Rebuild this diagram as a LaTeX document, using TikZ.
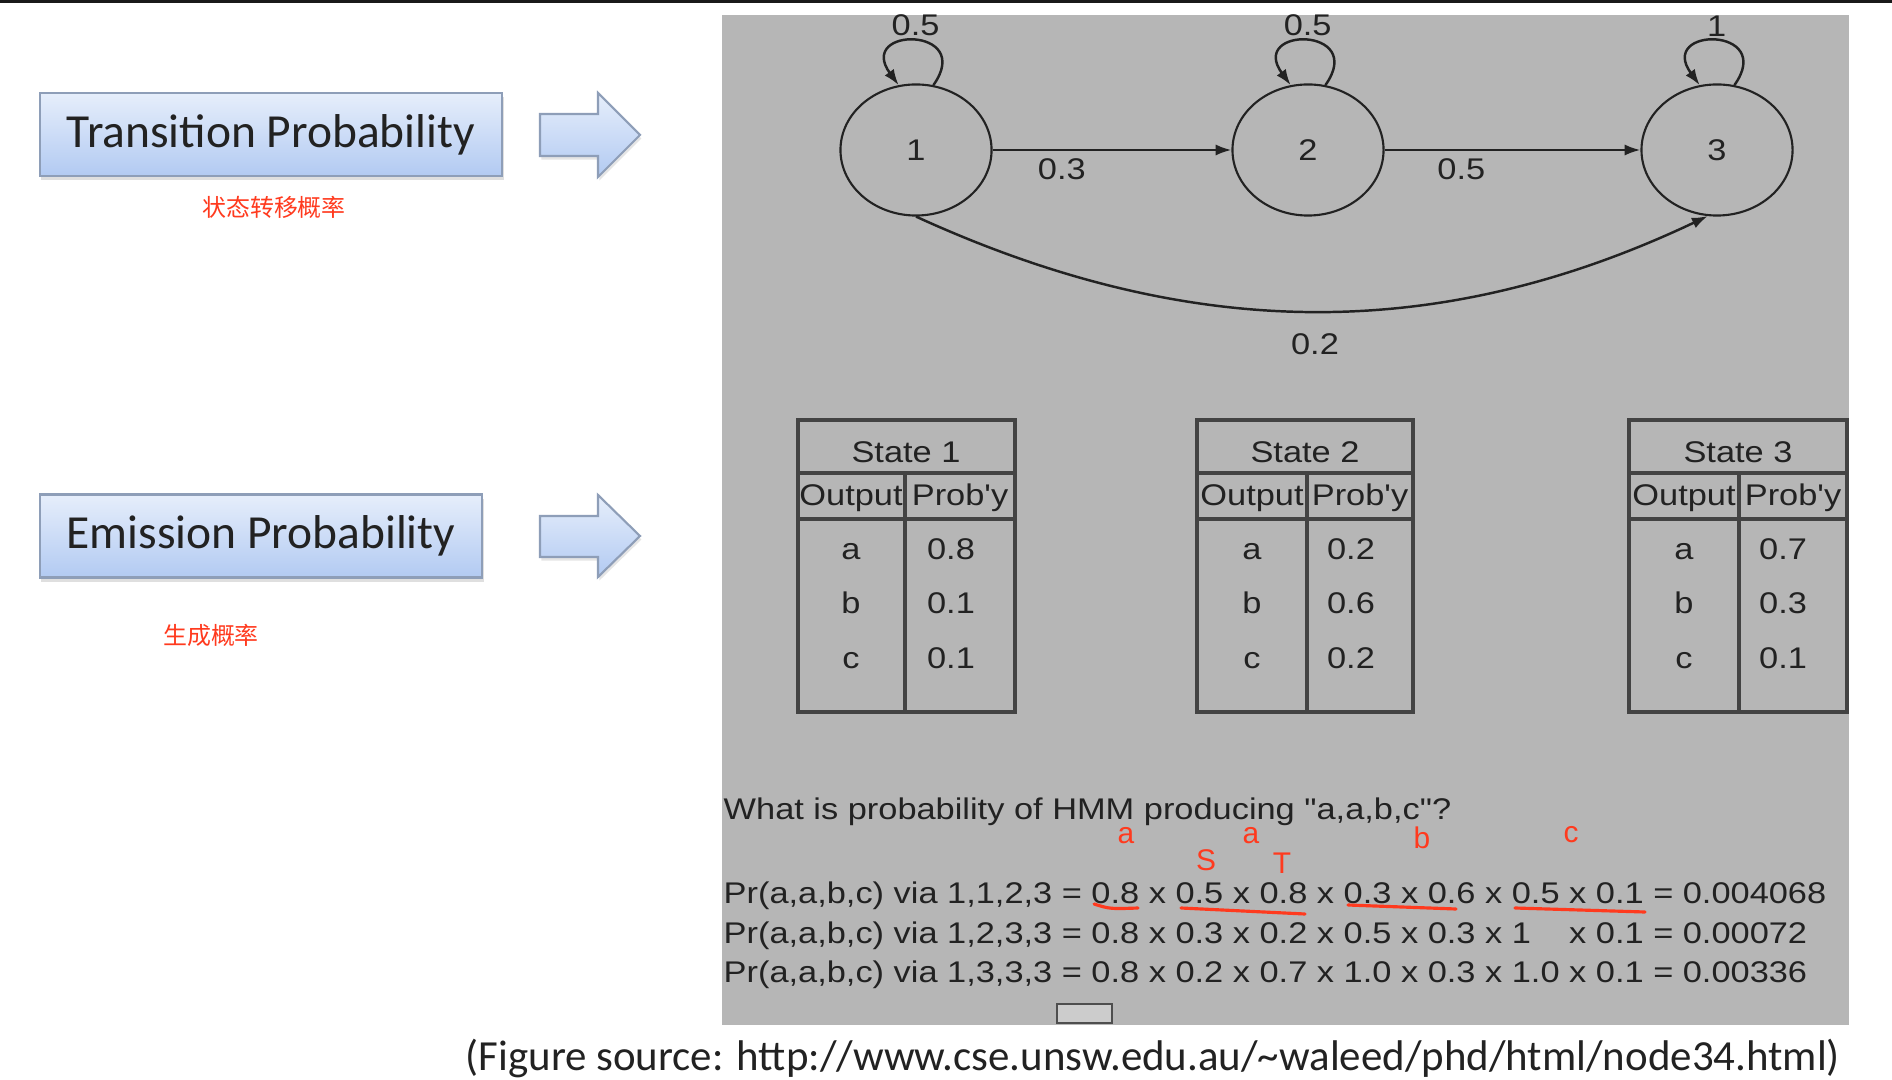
\documentclass[tikz,border=0pt]{standalone}
\usepackage{fontspec}
\setmainfont{Liberation Sans}
\newfontfamily\figfont[FakeStretch=1.15]{Liberation Sans}
\newfontfamily\slidefont{Carlito}
\newfontfamily\cjkfont{Noto Sans CJK SC}
\usepackage{xcolor}
\usepackage{tikz}
\usetikzlibrary{arrows.meta,positioning,shapes.geometric,shadows}

\definecolor{panel}{HTML}{B6B6B6}
\definecolor{ink}{HTML}{222222}
\definecolor{notered}{HTML}{FF3A1E}
\definecolor{boxtop}{HTML}{E6EEFB}
\definecolor{boxbot}{HTML}{B2CAF2}
\definecolor{boxedge}{HTML}{8E9EB8}

\begin{document}
\begin{tikzpicture}[x=0.01cm, y=-0.01cm,
  slidebox/.style={draw=boxedge, line width=0.7pt, top color=boxtop, bottom color=boxbot, minimum height=0.83cm, inner sep=0pt, text=ink, font=\slidefont\fontsize{13.5}{16}\selectfont, drop shadow={shadow xshift=0.4pt, shadow yshift=-1.2pt, opacity=0.25}},
  hollowarrow/.style={draw=boxedge, line width=0.6pt, top color=boxtop, bottom color=boxbot, drop shadow={shadow xshift=0.4pt, shadow yshift=-1pt, opacity=0.2}},
  cn/.style={text=notered, font=\cjkfont\fontsize{6.8}{8}\selectfont, inner sep=0pt},
  state/.style={ellipse, draw=ink, line width=0.6pt, minimum width=1.51cm, minimum height=1.31cm, inner sep=0pt, text=ink, font=\figfont\fontsize{8.5}{10}\selectfont},
  arrow/.style={-{Latex[length=4.5pt, width=3.2pt]}, draw=ink, line width=0.7pt},
  lbl/.style={text=ink, font=\figfont\fontsize{8.5}{10}\selectfont, inner sep=0pt},
  cell/.style={lbl, anchor=base},
  grid/.style={draw=ink!85, line width=0.9pt},
  note/.style={text=notered, font=\fontsize{8.5}{10}\selectfont, inner sep=0pt},
  scribble/.style={draw=notered, line width=0.9pt, line cap=round},
  caption/.style={text=ink, font=\slidefont\fontsize{12.2}{14}\selectfont, inner sep=0pt}
]
  \fill[white] (0,0) rectangle (1892,1080);
  \useasboundingbox (0,0) rectangle (1892,1080);
  \fill[black!90] (0,0) rectangle (1892,3);

  % slide side
  \node[slidebox, minimum width=4.62cm] (tbox) at (271,134.5) {Transition Probability};
  \node[cn, below=0.18cm of tbox, xshift=0.03cm] (tcn) {状态转移概率};
  \node[slidebox, minimum width=4.42cm] (ebox) at (261,536) {Emission Probability};
  \node[cn] (ecn) at (211,635) {生成概率};
  \draw[hollowarrow] (540,114) -- (598,114) -- (598,93) -- (640,135) -- (598,177) -- (598,156) -- (540,156) -- cycle;
  \draw[hollowarrow] (540,516) -- (598,516) -- (598,495) -- (640,536) -- (598,577) -- (598,557) -- (540,557) -- cycle;

  % HMM figure
  \fill[panel] (722,15) rectangle (1849,1025);

  \node[state] (s1) at (916,150) {1};
  \node[state] (s2) at (1308,150) {2};
  \node[state] (s3) at (1717,150) {3};

  \draw[arrow] (s1.75) .. controls +(42,-59) and +(-43,-59) .. (s1.105) node[lbl, pos=0.5, above=1pt] {0.5};
  \draw[arrow] (s2.75) .. controls +(42,-59) and +(-43,-59) .. (s2.105) node[lbl, pos=0.5, above=1pt] {0.5};
  \draw[arrow] (s3.75) .. controls +(42,-59) and +(-43,-59) .. (s3.105) node[lbl, pos=0.5, above=1pt] {1};
  \draw[arrow] (s1) -- node[lbl, pos=0.29, below=2pt] {0.3} (s2);
  \draw[arrow] (s2) -- node[lbl, pos=0.3, below=2pt] {0.5} (s3);
  \draw[arrow] (s1.south) .. controls (1192,343) and (1440,343) .. (s3.-98) node[lbl, pos=0.5, below=6pt] {0.2};

  % emission tables
  \draw[grid] (798,420) rectangle (1015,712) (798,473) -- (1015,473) (798,519) -- (1015,519) (905,473) -- (905,712);
  \node[cell] (st1) at (906,463) {State 1};
  \node[cell] (o1) at (851,506) {Output}; \node[cell] (p1) at (960,506) {Prob'y};
  \node[cell] (a1) at (851,560) {a}; \node[cell] (va1) at (951,560) {0.8};
  \node[cell] (b1) at (851,614) {b}; \node[cell] (vb1) at (951,614) {0.1};
  \node[cell] (c1) at (851,669) {c}; \node[cell] (vc1) at (951,669) {0.1};

  \draw[grid] (1197,420) rectangle (1413,712) (1197,473) -- (1413,473) (1197,519) -- (1413,519) (1307,473) -- (1307,712);
  \node[cell] (st2) at (1305,463) {State 2};
  \node[cell] (o2) at (1252,506) {Output}; \node[cell] (p2) at (1360,506) {Prob'y};
  \node[cell] (a2) at (1252,560) {a}; \node[cell] (va2) at (1351,560) {0.2};
  \node[cell] (b2) at (1252,614) {b}; \node[cell] (vb2) at (1351,614) {0.6};
  \node[cell] (c2) at (1252,669) {c}; \node[cell] (vc2) at (1351,669) {0.2};

  \draw[grid] (1629,420) rectangle (1847,712) (1629,473) -- (1847,473) (1629,519) -- (1847,519) (1739,473) -- (1739,712);
  \node[cell] (st3) at (1738,463) {State 3};
  \node[cell] (o3) at (1684,506) {Output}; \node[cell] (p3) at (1793,506) {Prob'y};
  \node[cell] (a3) at (1684,560) {a}; \node[cell] (va3) at (1783,560) {0.7};
  \node[cell] (b3) at (1684,614) {b}; \node[cell] (vb3) at (1783,614) {0.3};
  \node[cell] (c3) at (1684,669) {c}; \node[cell] (vc3) at (1783,669) {0.1};

  % question and worked paths
  \node[lbl, anchor=base west] (q) at (723,819) {What is probability of HMM producing "a,a,b,c"?};
  \node[lbl, anchor=base west] (r1) at (723,903) {Pr(a,a,b,c) via 1,1,2,3 = 0.8 x 0.5 x 0.8 x 0.3 x 0.6 x 0.5 x 0.1 = 0.004068};
  \node[lbl, anchor=base west] (r2) at (723,943) {Pr(a,a,b,c) via 1,2,3,3 = 0.8 x 0.3 x 0.2 x 0.5 x 0.3 x 1\phantom{.0} x 0.1 = 0.00072};
  \node[lbl, anchor=base west] (r3) at (723,982) {Pr(a,a,b,c) via 1,3,3,3 = 0.8 x 0.2 x 0.7 x 1.0 x 0.3 x 1.0 x 0.1 = 0.00336};
  \draw[draw=ink!80, line width=0.8pt, fill=panel!70!white] (1057,1004) rectangle (1112,1023);

  % handwritten marks
  \node[note] (ha1) at (1126,836) {a};
  \node[note] (ha2) at (1251,836) {a};
  \node[note] (hb) at (1422,838) {b};
  \node[note] (hc) at (1571,835) {c};
  \node[note] (hs) at (1206,860) {S};
  \node[note] (ht) at (1282,863) {T};
  \draw[scribble] (1094,904) .. controls (1110,909) .. (1138,908);
  \draw[scribble] (1181,908) -- (1305,914);
  \draw[scribble] (1348,905) -- (1456,909);
  \draw[scribble] (1515,908) -- (1645,912);

  \node[caption, anchor=base] (src) at (1153,1070) {(Figure source: http://www.cse.unsw.edu.au/\textasciitilde waleed/phd/html/node34.html)};
\end{tikzpicture}
\end{document}
